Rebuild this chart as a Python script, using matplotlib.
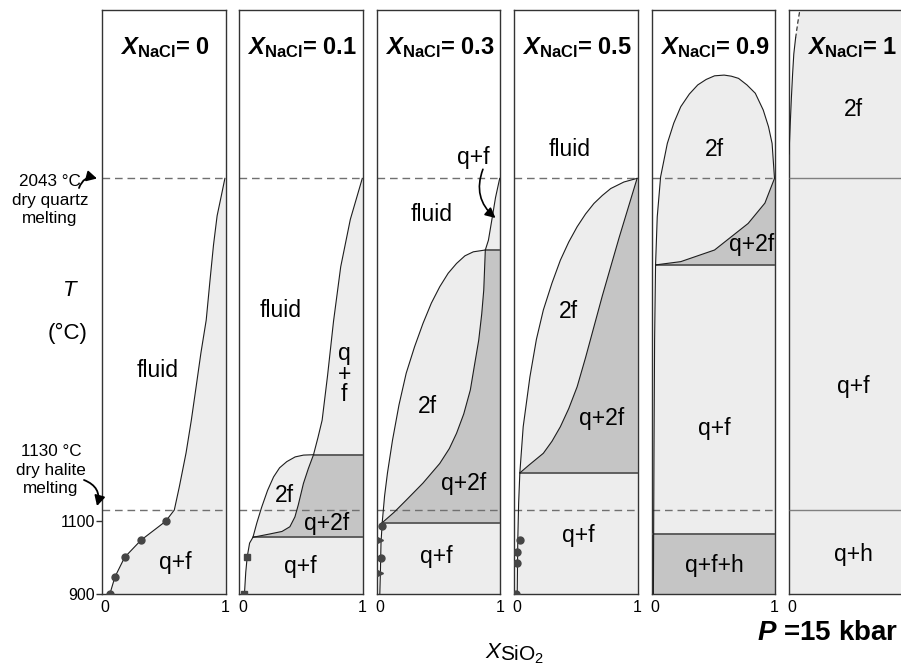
import matplotlib
matplotlib.use('Agg')
import matplotlib.pyplot as plt
from matplotlib.patches import FancyArrowPatch

plt.rcParams['font.family'] = ['Liberation Sans', 'DejaVu Sans']
plt.rcParams['mathtext.fontset'] = 'custom'
plt.rcParams['mathtext.rm'] = 'Liberation Sans'
plt.rcParams['mathtext.it'] = 'Liberation Sans:italic'
plt.rcParams['mathtext.bf'] = 'Liberation Sans:bold'
plt.rcParams['mathtext.bfit'] = 'Liberation Sans:bold:italic'

# ---------------- data ----------------
T_MIN, T_MAX = 900, 2506
T_QTZ, T_HAL = 2043, 1130
x_nacl = ['0', '0.1', '0.3', '0.5', '0.9', '1']
y_ticks = [900, 1100]
x_ticks = [0, 1]

# panel X_NaCl = 0
liq0_x = [0.025, 0.045, 0.083, 0.164, 0.30, 0.506, 0.578, 0.62, 0.676, 0.72, 0.76, 0.80, 0.844, 0.875, 0.905, 0.935, 0.97, 1.0]
liq0_T = [900, 905, 947, 1001, 1048, 1100, 1131, 1195, 1288, 1378, 1470, 1563, 1653, 1760, 1860, 1940, 1995, 2043]
dot0_x = [0.045, 0.083, 0.164, 0.30, 0.506]
dot0_T = [900, 947, 1001, 1048, 1100]

# panel X_NaCl = 0.1
left1_x = [0.017, 0.028, 0.04, 0.06, 0.088]
left1_T = [900, 960, 1002, 1040, 1056]
dome1_x = [0.088, 0.12, 0.16, 0.21, 0.26, 0.31, 0.37, 0.44, 0.51, 0.593]
dome1_T = [1056, 1095, 1138, 1185, 1222, 1247, 1264, 1277, 1282, 1283]
inner1_x = [0.088, 0.227, 0.33, 0.396, 0.438, 0.466, 0.509, 0.55, 0.593]
inner1_T = [1056, 1065, 1072, 1085, 1112, 1145, 1204, 1245, 1283]
upper1_x = [0.593, 0.63, 0.665, 0.71, 0.76, 0.82, 0.90, 1.0]
upper1_T = [1283, 1330, 1378, 1500, 1650, 1800, 1930, 2043]
sq1_x = [0.017, 0.04]
sq1_T = [900, 1002]

# panel X_NaCl = 0.3
left3_x = [0.0, 0.005, 0.01, 0.02]
left3_T = [900, 960, 1040, 1096]
dome3_x = [0.02, 0.04, 0.064, 0.106, 0.16, 0.22, 0.29, 0.36, 0.43, 0.50, 0.57, 0.64, 0.71, 0.78, 0.88]
dome3_T = [1096, 1170, 1233, 1323, 1420, 1507, 1580, 1644, 1700, 1745, 1782, 1809, 1830, 1841, 1846]
inner3_x = [0.02, 0.12, 0.22, 0.36, 0.50, 0.58, 0.64, 0.70, 0.755, 0.79, 0.825, 0.85, 0.867, 0.88]
inner3_T = [1096, 1125, 1158, 1205, 1259, 1300, 1342, 1395, 1461, 1530, 1598, 1670, 1736, 1846]
upper3_x = [0.88, 0.906, 0.935, 0.965, 1.0]
upper3_T = [1846, 1873, 1930, 1990, 2043]
dot3_x = [0.02, 0.01]
dot3_T = [1087, 999]
tri3_x = [0.0, 0.0]
tri3_T = [1048, 958]

# panel X_NaCl = 0.5
left5_x = [0.0, 0.005, 0.012, 0.022]
left5_T = [900, 1050, 1150, 1233]
dome5_x = [0.022, 0.05, 0.106, 0.16, 0.218, 0.29, 0.36, 0.43, 0.50, 0.57, 0.64, 0.71, 0.78, 0.89, 1.0]
dome5_T = [1233, 1360, 1497, 1600, 1681, 1755, 1818, 1868, 1910, 1945, 1974, 1996, 2015, 2033, 2043]
inner5_x = [0.022, 0.10, 0.218, 0.29, 0.36, 0.43, 0.50, 0.57, 0.64, 0.71, 0.78, 0.85, 0.92, 1.0]
inner5_T = [1233, 1255, 1287, 1320, 1360, 1410, 1470, 1550, 1635, 1720, 1800, 1880, 1956, 2043]
dot5_x = [0.025, 0.0, 0.0, -0.01]
dot5_T = [1048, 1016, 984, 900]

# panel X_NaCl = 0.9
left9_x = [-0.01, -0.005, 0.0, 0.008]
left9_T = [900, 1300, 1600, 1805]
dome9_x = [0.008, 0.022, 0.05, 0.106, 0.16, 0.218, 0.29, 0.36, 0.43, 0.50, 0.58, 0.64, 0.70, 0.77, 0.84, 0.906, 0.95, 0.98, 1.0]
dome9_T = [1805, 1937, 2047, 2139, 2195, 2240, 2275, 2300, 2315, 2325, 2327, 2324, 2318, 2300, 2277, 2231, 2185, 2139, 2043]
inner9_x = [0.008, 0.218, 0.50, 0.78, 0.92, 1.0]
inner9_T = [1805, 1814, 1846, 1919, 1975, 2043]
T_qfh = 1065

# panel X_NaCl = 1
curve10_x = [-0.025, -0.015, -0.005, 0.005, 0.015, 0.03]
curve10_T = [2110, 2190, 2265, 2330, 2385, 2429]
ext10_x = [0.03, 0.05, 0.07]
ext10_T = [2429, 2475, 2515]

# region labels: (panel, x, T, text)
lab_panel = [0, 0, 1, 1, 1, 1, 1, 2, 2, 2, 2, 2, 3, 3, 3, 3, 4, 4, 4, 4, 5, 5, 5]
lab_x = [0.44, 0.59, 0.32, 0.85, 0.354, 0.705, 0.48, 0.43, 0.78, 0.40, 0.70, 0.47, 0.44, 0.43, 0.70, 0.51, 0.50, 0.81, 0.50, 0.50, 0.51, 0.51, 0.51]
lab_T = [1516, 987, 1680, 1505, 1172, 1094, 975, 1945, 2101, 1415, 1204, 1003, 2121, 1676, 1383, 1060, 2121, 1860, 1356, 978, 2231, 1470, 1010]
lab_txt = ['fluid', 'q+f', 'fluid', 'q\n+\nf', '2f', 'q+2f', 'q+f', 'fluid', 'q+f', '2f', 'q+2f', 'q+f',
           'fluid', '2f', 'q+2f', 'q+f', '2f', 'q+2f', 'q+f', 'q+f+h', '2f', 'q+f', 'q+h']

# ---------------- style ----------------
LIGHT = '#ededed'
DARK = '#c5c5c5'
LINE = '#1e1e1e'
HLINE = '#555555'
DASH = '#707070'
XL, XR = -0.025, 1.005
W, H = 901, 666

fig = plt.figure(figsize=(W / 100, H / 100), dpi=100)
axes = []
for i in range(6):
    lpx = 102 + i * 137.4
    ax = fig.add_axes([lpx / W, 72 / H, 123.5 / W, 584 / H])
    ax.set_xlim(XL, XR)
    ax.set_ylim(T_MIN, T_MAX)
    for s in ax.spines.values():
        s.set_color('#333333')
        s.set_linewidth(1.0)
    xt = x_ticks if i < 5 else x_ticks[:1]
    ax.set_xticks(xt)
    ax.set_xticklabels([str(v) for v in xt])
    ax.tick_params(axis='x', length=0, pad=4, labelsize=11.5)
    if i == 0:
        ax.set_yticks(y_ticks)
        ax.set_yticklabels([str(v) for v in y_ticks])
        ax.tick_params(axis='y', length=4, width=1, pad=1, labelsize=11.5, color='#333333')
    else:
        ax.set_yticks([])
    axes.append(ax)


def fill(ax, xs, Ts, c):
    ax.fill(xs, Ts, color=c, lw=0, zorder=1)


def curve(ax, xs, Ts, **kw):
    ax.plot(xs, Ts, color=LINE, lw=0.8, zorder=4, **kw)


def hl(ax, T, x0, x1, c=HLINE, lw=1.3):
    ax.plot([x0, x1], [T, T], color=c, lw=lw, zorder=3, solid_capstyle='butt')


def dashed(ax, T):
    ax.plot([XL, XR], [T, T], color=DASH, lw=1.0, dashes=(5.5, 3.5), zorder=2.5)


# panel 0
ax = axes[0]
fill(ax, liq0_x + [XR, XR], liq0_T + [T_QTZ, T_MIN], LIGHT)
curve(ax, liq0_x, liq0_T)
ax.plot(dot0_x, dot0_T, 'o', color='#454545', ms=5, zorder=5)

# panel 0.1
ax = axes[1]
fill(ax, left1_x + dome1_x[1:] + upper1_x[1:] + [XR, XR], left1_T + dome1_T[1:] + upper1_T[1:] + [T_QTZ, T_MIN], LIGHT)
fill(ax, inner1_x + [XR, XR], inner1_T + [dome1_T[-1], left1_T[-1]], DARK)
for xs, Ts in [(left1_x, left1_T), (dome1_x, dome1_T), (inner1_x, inner1_T), (upper1_x, upper1_T)]:
    curve(ax, xs, Ts)
hl(ax, dome1_T[-1], dome1_x[-1], XR)
hl(ax, left1_T[-1], left1_x[-1], XR)
ax.plot(sq1_x, sq1_T, 's', color='#454545', ms=4, zorder=5)

# panel 0.3
ax = axes[2]
fill(ax, left3_x + dome3_x[1:] + upper3_x[1:] + [XR, XR], left3_T + dome3_T[1:] + upper3_T[1:] + [T_QTZ, T_MIN], LIGHT)
fill(ax, inner3_x + [XR, XR], inner3_T + [dome3_T[-1], left3_T[-1]], DARK)
for xs, Ts in [(left3_x, left3_T), (dome3_x, dome3_T), (inner3_x, inner3_T), (upper3_x, upper3_T)]:
    curve(ax, xs, Ts)
hl(ax, dome3_T[-1], dome3_x[-1], XR)
hl(ax, left3_T[-1], left3_x[-1], XR)
ax.plot(dot3_x, dot3_T, 'o', color='#454545', ms=5, zorder=5)
ax.plot(tri3_x, tri3_T, '>', color='#454545', ms=4, zorder=5)
ax.annotate('', xy=(0.965, 1934), xytext=(0.86, 2068),
            arrowprops=dict(arrowstyle='-|>,head_length=0.6,head_width=0.3', color='black', lw=1.2,
                            connectionstyle='arc3,rad=0.35', shrinkA=0, shrinkB=0), zorder=6)

# panel 0.5
ax = axes[3]
fill(ax, left5_x + dome5_x[1:] + [XR, XR], left5_T + dome5_T[1:] + [T_QTZ, T_MIN], LIGHT)
fill(ax, inner5_x + [XR, XR], inner5_T + [T_QTZ, left5_T[-1]], DARK)
for xs, Ts in [(left5_x, left5_T), (dome5_x, dome5_T), (inner5_x, inner5_T)]:
    curve(ax, xs, Ts)
hl(ax, left5_T[-1], left5_x[-1], XR)
ax.plot(dot5_x, dot5_T, 'o', color='#454545', ms=5, zorder=5)

# panel 0.9
ax = axes[4]
fill(ax, left9_x + dome9_x[1:] + [XR, XR], left9_T + dome9_T[1:] + [T_QTZ, T_MIN], LIGHT)
fill(ax, inner9_x + [XR, XR], inner9_T + [T_QTZ, left9_T[-1]], DARK)
fill(ax, [XL, XR, XR, XL], [T_MIN, T_MIN, T_qfh, T_qfh], DARK)
for xs, Ts in [(left9_x, left9_T), (dome9_x, dome9_T), (inner9_x, inner9_T)]:
    curve(ax, xs, Ts)
hl(ax, left9_T[-1], left9_x[-1], XR)
hl(ax, T_qfh, XL, XR)

# panel 1
ax = axes[5]
fill(ax, [XL, XL] + curve10_x + ext10_x[1:] + [XR, XR], [T_MIN, curve10_T[0]] + curve10_T + ext10_T[1:] + [T_MAX, T_MIN], LIGHT)
curve(ax, curve10_x, curve10_T)
ax.plot(ext10_x, ext10_T, color=LINE, lw=0.8, dashes=(4, 2.5), zorder=4)
hl(ax, T_QTZ, XL, XR, c='#808080', lw=1.0)
hl(ax, T_HAL, XL, XR, c='#808080', lw=1.0)

for i in range(5):
    dashed(axes[i], T_QTZ)
    dashed(axes[i], T_HAL)

# titles
for i, v in enumerate(x_nacl):
    axes[i].text(0.5, 2404, r'$\mathbfit{X}_{\mathbf{NaCl}}$' + '= ' + v, ha='center', va='center',
                 fontsize=17, fontweight='bold', zorder=7)

# region labels
for p, x, T, t in zip(lab_panel, lab_x, lab_T, lab_txt):
    axes[p].text(x, T, t, ha='center', va='center', fontsize=16.5, zorder=7, linespacing=0.85)

# left annotations
fig.text(70 / W, 1 - 290 / H, 'T', fontsize=16, style='italic', ha='center', va='center')
fig.text(68 / W, 1 - 333 / H, '(°C)', fontsize=16, ha='center', va='center')
fig.text(50 / W, 1 - 200 / H, '2043 °C\ndry quartz\nmelting', fontsize=12.3, ha='center', va='center',
         linespacing=1.25)
fig.text(51 / W, 1 - 470 / H, '1130 °C\ndry halite\nmelting', fontsize=12.3, ha='center', va='center',
         linespacing=1.25)


def fpt(px, py):
    return (px / W, 1 - py / H)


for A, B, rad in [((79, 188), (97, 178.5), -0.45), ((84, 480), (97, 506), -0.45)]:
    arr = FancyArrowPatch(fpt(*A), fpt(*B), transform=fig.transFigure,
                          arrowstyle='-|>,head_length=6,head_width=3.2', mutation_scale=1,
                          connectionstyle='arc3,rad=%s' % rad, color='black', lw=1.3,
                          shrinkA=0, shrinkB=0)
    fig.add_artist(arr)

# axis label and pressure
fig.text(500 / W, 1 - 652 / H, 'X', fontsize=16, style='italic', ha='right', va='center')
fig.text(500 / W, 1 - 655 / H, r'SiO$_2$', fontsize=15, ha='left', va='center')
fig.text(898 / W, 1 - 633 / H, r'$\mathbfit{P}$ =15 kbar', fontsize=20, fontweight='bold',
         ha='right', va='center')

fig.savefig('out.png', dpi=100)
